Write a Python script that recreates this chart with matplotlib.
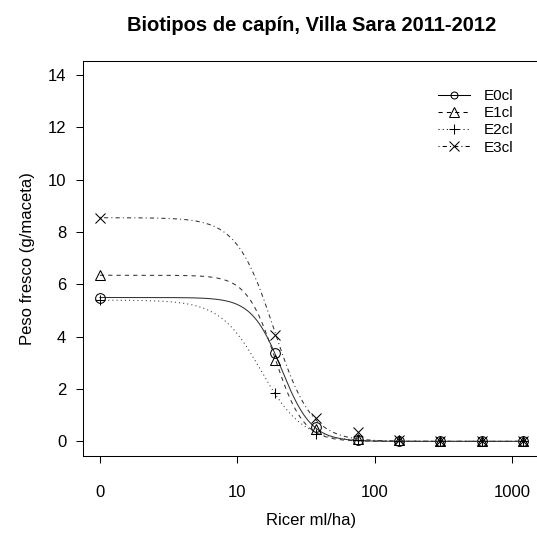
import numpy as np
import matplotlib
matplotlib.use('Agg')
import matplotlib.pyplot as plt

plt.rcParams['font.family'] = ['Liberation Sans', 'DejaVu Sans']

# doses (ml/ha) and mean fresh weight per biotype
doses = [0, 18.75, 37.5, 75, 150, 300, 600, 1200]
e0 = [5.48, 3.37, 0.55, 0.05, 0.03, 0.02, 0.02, 0.02]
e1 = [6.35, 3.10, 0.48, 0.10, 0.04, 0.02, 0.02, 0.02]
e2 = [5.40, 1.84, 0.28, 0.05, 0.03, 0.02, 0.02, 0.02]
e3 = [8.55, 4.05, 0.88, 0.35, 0.06, 0.03, 0.02, 0.02]
labels = ['E0cl', 'E1cl', 'E2cl', 'E3cl']

# log-logistic (LL.3) fitted parameters: slope b, upper d, ED50 e
b_par = [4.0, 4.2, 2.9, 3.2]
d_par = [5.5, 6.35, 5.4, 8.55]
e_par = [21.0, 18.8, 14.9, 18.5]

markers = ['o', '^', '+', 'x']
styles = ['-', (0, (4, 4)), (0, (1, 3)), (0, (1, 3, 4, 3))]

fig = plt.figure(figsize=(5.37, 5.37), dpi=100)
ax = fig.add_axes([83/537, 81/537, 457/537, 395.5/537])

xd = np.array(doses, dtype=float)
xd[xd == 0] = 1.0  # dose 0 shown at 1 on the log axis
xc = np.logspace(0, np.log10(1200), 400)

for i, ys in enumerate([e0, e1, e2, e3]):
    yc = d_par[i] / (1 + np.exp(b_par[i] * (np.log(xc) - np.log(e_par[i]))))
    ax.plot(xc, yc, color='#333333', lw=0.75, linestyle=styles[i])
    ax.plot(xd, ys, linestyle='none', marker=markers[i], markersize=7,
            markerfacecolor='none', markeredgecolor='black', markeredgewidth=0.75)

# legend handles
handles = [plt.Line2D([], [], color='black', lw=0.75, linestyle=styles[i],
                      marker=markers[i], markersize=7 if i > 0 else 5,
                      markerfacecolor='none', markeredgewidth=0.75)
           for i in range(4)]
ax.legend(handles, labels, loc='upper left', bbox_to_anchor=(0.777, 0.927),
          frameon=False, fontsize=11, handlelength=2.1, labelspacing=0.2,
          handletextpad=0.9, borderpad=0, borderaxespad=0)

ax.set_xscale('log')
ax.set_xlim(10**-0.123, 10**3.202)
ax.set_ylim(-0.56, 14.56)
ax.set_xticks([1, 10, 100, 1000])
ax.set_xticklabels(['0', '10', '100', '1000'])
ax.minorticks_off()
ax.set_yticks(range(0, 15, 2))
ax.tick_params(direction='out', length=5, width=0.75, labelsize=12)
ax.tick_params(axis='x', pad=16)
ax.tick_params(axis='y', pad=7)
for s in ax.spines.values():
    s.set_linewidth(0.75)

ax.set_title('Biotipos de capín, Villa Sara 2011-2012', fontsize=14.5,
             fontweight='bold', pad=21)
ax.set_xlabel('Ricer ml/ha)', fontsize=12, labelpad=9)
ax.set_ylabel('Peso fresco (g/maceta)', fontsize=12, labelpad=9)

fig.savefig('out.png', dpi=100)
